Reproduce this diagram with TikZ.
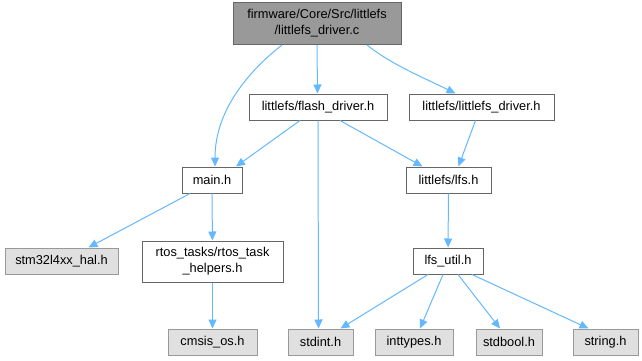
\documentclass[tikz,border=0pt]{standalone}
\usepackage{fontspec}
\setmainfont{Liberation Sans}
\usetikzlibrary{arrows.meta}
\definecolor{edgeblue}{HTML}{63B8FF}
\definecolor{rootgray}{HTML}{999999}
\definecolor{bordergray}{HTML}{666666}
\definecolor{extgray}{HTML}{E0E0E0}
\begin{document}
\begin{tikzpicture}[x=1pt,y=-1pt,
  file/.style={draw=bordergray,fill=white,line width=1pt,inner sep=0pt,minimum height=26pt,font=\fontsize{12.8}{16}\selectfont},
  ext/.style={file,draw=rootgray,fill=extgray},
  dep/.style={draw=edgeblue,line width=1pt,-{Triangle[length=9pt,width=8pt]}}]
\useasboundingbox (0,0) rectangle (642,361);
\node[file,fill=rootgray,minimum width=168pt,minimum height=42pt,align=center] (root) at (317,23.5) {firmware/Core/Src/littlefs\\/littlefs\_driver.c};
\node[file,minimum width=138pt] (flash) at (318,107) {littlefs/flash\_driver.h};
\node[file,minimum width=145pt] (lfsdrv) at (481.5,107) {littlefs/littlefs\_driver.h};
\node[file,minimum width=60pt] (main) at (212,180) {main.h};
\node[file,minimum width=85pt] (lfs) at (448.5,180) {littlefs/lfs.h};
\node[ext,minimum width=113pt] (hal) at (61.5,261) {stm32l4xx\_hal.h};
\node[file,minimum width=141pt,minimum height=41pt,align=center] (rtos) at (212.5,261.5) {rtos\_tasks/rtos\_task\\\_helpers.h};
\node[file,minimum width=70pt] (lfsutil) at (448,261) {lfs\_util.h};
\node[ext,minimum width=89pt] (cmsis) at (212.5,342) {cmsis\_os.h};
\node[ext,minimum width=65pt] (stdint) at (320.5,342) {stdint.h};
\node[ext,minimum width=78pt] (inttypes) at (414,342) {inttypes.h};
\node[ext,minimum width=66pt] (stdbool) at (509,342) {stdbool.h};
\node[ext,minimum width=65pt] (string) at (605.5,342) {string.h};

\path[dep] ([xshift=-35pt]root.south) .. controls +(-32,25) and +(0,-57) .. ([xshift=3pt]main.north);
\path[dep] (root.south) -- ([xshift=-0.5pt]flash.north);
\path[dep] ([xshift=50pt]root.south) .. controls +(25,20) and +(-30,-15) .. ([xshift=-26pt]lfsdrv.north);
\path[dep] ([xshift=-18pt]flash.south) -- ([xshift=24pt]main.north);
\path[dep] (flash.south) -- ([xshift=-2pt]stdint.north);
\path[dep] ([xshift=22pt]flash.south) -- ([xshift=-26pt]lfs.north);
\path[dep] ([xshift=-6pt]lfsdrv.south) -- ([xshift=10pt]lfs.north);
\path[dep] (lfs) -- (lfsutil);
\path[dep] ([xshift=-22pt]main.south) -- ([xshift=27pt]hal.north);
\path[dep] (main) -- (rtos);
\path[dep] (rtos) -- (cmsis);
\path[dep] ([xshift=-20pt]lfsutil.south) -- ([xshift=20pt]stdint.north);
\path[dep] ([xshift=-5pt]lfsutil.south) -- ([xshift=6pt]inttypes.north);
\path[dep] ([xshift=10pt]lfsutil.south) -- ([xshift=-9pt]stdbool.north);
\path[dep] ([xshift=24pt]lfsutil.south) -- ([xshift=-17pt]string.north);
\end{tikzpicture}
\end{document}
